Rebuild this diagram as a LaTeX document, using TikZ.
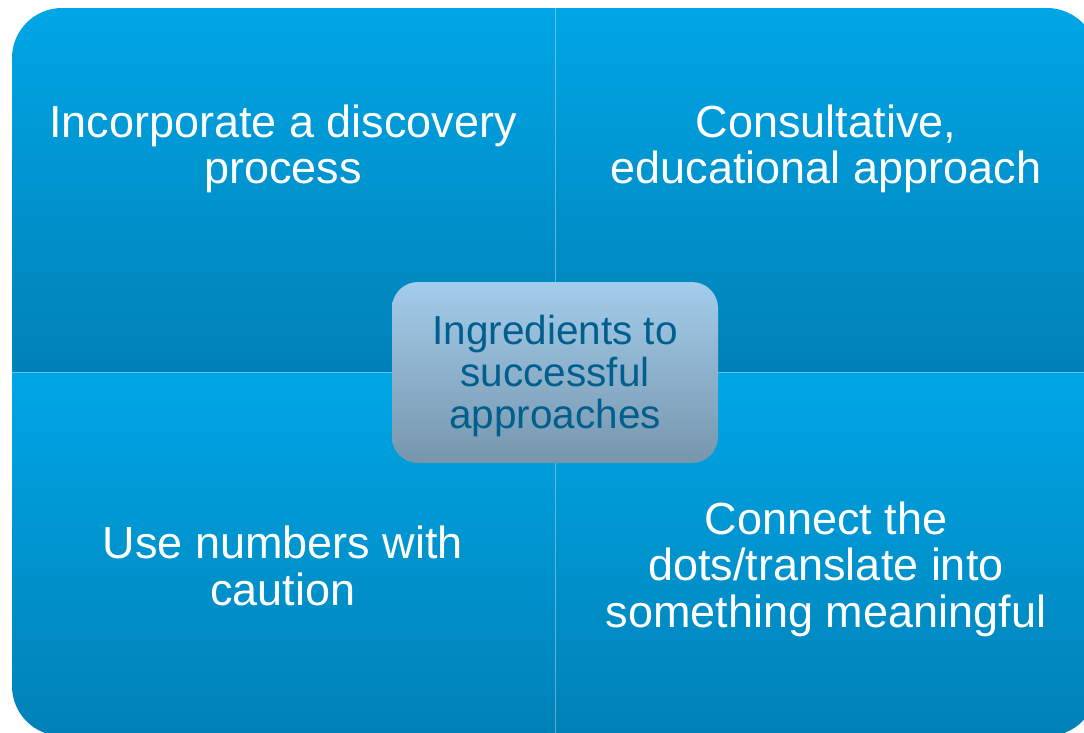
\documentclass[tikz,border=0pt]{standalone}
\usepackage{fontspec}
\setmainfont{Liberation Sans}
\definecolor{qtop}{HTML}{00A6E6}
\definecolor{qbot}{HTML}{0081B7}
\definecolor{ctop}{HTML}{A3CCEB}
\definecolor{cbot}{HTML}{7796AD}
\definecolor{ctext}{HTML}{005F8F}
\tikzset{
  qtext/.style={text=white, align=center, font=\fontsize{45}{46.5}\selectfont},
  ctextstyle/.style={text=ctext, align=center, font=\fontsize{40.5}{42}\selectfont},
  quad/.style={top color=qtop, bottom color=qbot},
  sep/.style={draw=white, draw opacity=0.35, line width=0.8pt}
}
\begin{document}
\begin{tikzpicture}[x=1pt,y=-1pt]
\useasboundingbox (0,0) rectangle (1084,732);
\clip (0,0) rectangle (1084,732);
\fill[white] (0,0) rectangle (1084,732);
% quadrants
\shade[quad] (12,372) -- (12,58) arc (180:270:50) -- (555,8) -- (555,372) -- cycle;
\shade[quad] (555,372) -- (555,8) -- (1047,8) arc (270:360:50) -- (1097,372) -- cycle;
\shade[quad] (12,372) -- (555,372) -- (555,736) -- (62,736) arc (90:180:50) -- cycle;
\shade[quad] (555,372) -- (1097,372) -- (1097,686) arc (0:90:50) -- (555,736) -- cycle;
\draw[sep] (555,8) -- (555,736);
\draw[sep] (12,372) -- (1097,372);
% texts
\node[qtext] (tl) at (283,149) {Incorporate a discovery\\process};
\node[qtext] (tr) at (826,149) {Consultative,\\educational approach};
\node[qtext] (bl) at (283,566) {Use numbers with\\caution};
\node[qtext] (br) at (826,569) {Connect the\\dots/translate into\\something meaningful};
% center
\shade[top color=ctop, bottom color=cbot, rounded corners=26] (392,282) rectangle (718,463);
\node[ctextstyle] (c) at (555,376) {Ingredients to\\successful\\approaches};
\end{tikzpicture}
\end{document}
